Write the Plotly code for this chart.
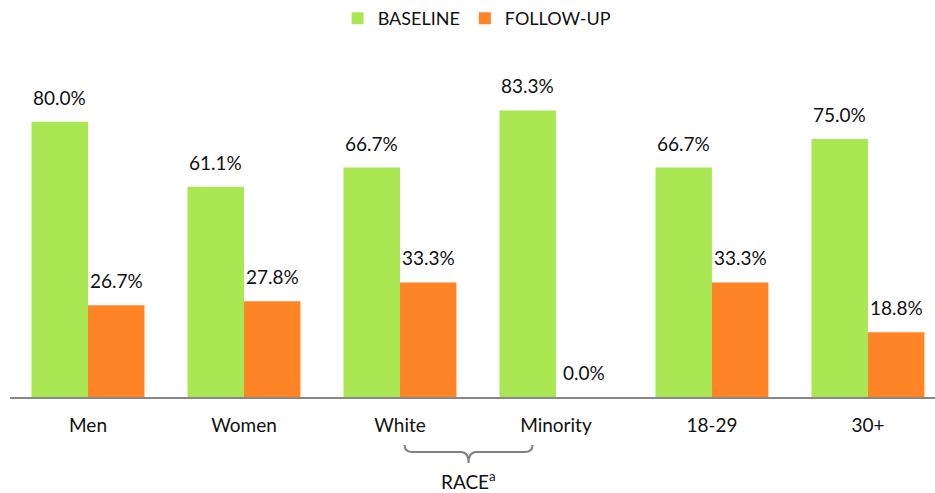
import plotly.graph_objects as go

categories = ["Men", "Women", "White", "Minority", "18-29", "30+"]
baseline = [80.0, 61.1, 66.7, 83.3, 66.7, 75.0]
followup = [26.7, 27.8, 33.3, 0.0, 33.3, 18.8]
series_names = ["BASELINE", "FOLLOW-UP"]
colors = ["#a9e852", "#ff8426"]

FONT = "Lato, Calibri, Carlito, sans-serif"
bargap = 0.276
idx = list(range(len(categories)))

fig = go.Figure()
for name, vals, col in zip(series_names, [baseline, followup], colors):
    fig.add_trace(go.Bar(x=idx, y=vals, name=name, marker=dict(color=col, line=dict(width=0))))

off = (1 - bargap) / 4
annotations = []
for sign, vals in [(-1, baseline), (1, followup)]:
    for i, v in enumerate(vals):
        annotations.append(dict(x=i + sign * off, y=v, xref="x", yref="y", text=f"{v:.1f}%",
                                showarrow=False, yanchor="bottom", yshift=11,
                                font=dict(size=19, color="#111", family=FONT)))

# RACE brace under White and Minority
xa, xb = 2.03, 2.85
xm = (xa + xb) / 2
ytop, ymid, ytip = -0.1395, -0.16, -0.192
d = 0.05
path = (f"M {xa},{ytop} Q {xa},{ymid} {xa+d},{ymid} L {xm-d},{ymid} "
        f"Q {xm},{ymid} {xm},{ytip} Q {xm},{ymid} {xm+d},{ymid} L {xb-d},{ymid} "
        f"Q {xb},{ymid} {xb},{ytop}")
annotations.append(dict(x=xm, y=-0.285, xref="x", yref="paper", text="RACE<sup>a</sup>",
                        showarrow=False, font=dict(size=19, color="#111", family=FONT)))

fig.update_layout(
    width=935, height=493,
    margin=dict(l=10, r=0, t=53, b=96),
    paper_bgcolor="white", plot_bgcolor="white",
    barmode="group", bargap=bargap, bargroupgap=0,
    font=dict(family=FONT, size=19, color="#111"),
    legend=dict(orientation="h", x=0.505, xanchor="center", y=1.10, yanchor="middle",
                font=dict(size=18, family=FONT, color="#111"), itemwidth=30),
    xaxis=dict(tickmode="array", tickvals=idx, ticktext=categories, range=[-0.5, 5.43],
               showline=True, linecolor="#888", linewidth=2, showgrid=False, zeroline=False,
               ticks="outside", ticklen=10, tickcolor="rgba(0,0,0,0)",
               tickfont=dict(size=19, family=FONT, color="#111")),
    yaxis=dict(range=[0, 100], visible=False, showgrid=False, zeroline=False),
    annotations=annotations,
    shapes=[dict(type="path", path=path, xref="x", yref="paper",
                 line=dict(color="#808080", width=2))],
)

fig.write_html("out.html")
